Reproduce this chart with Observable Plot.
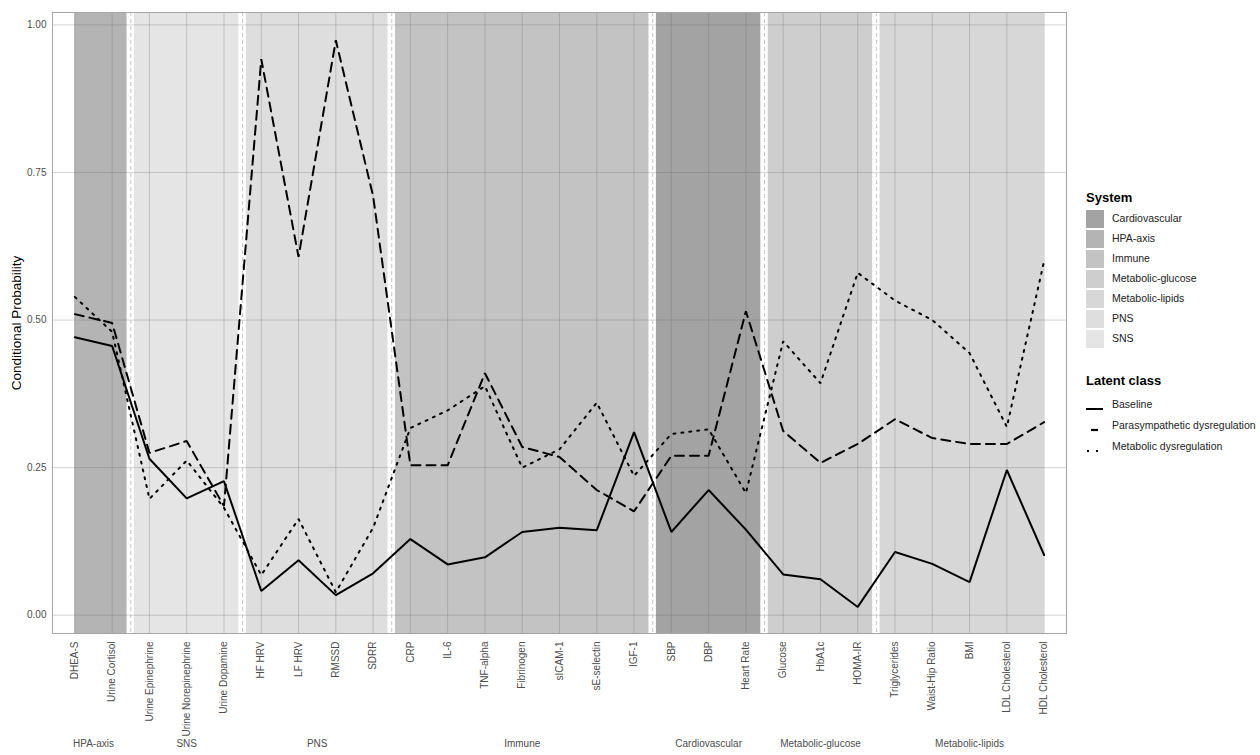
<!DOCTYPE html>
<html>
<head>
<meta charset="utf-8">
<script src="https://cdn.jsdelivr.net/npm/d3@7"></script>
<script src="https://cdn.jsdelivr.net/npm/@observablehq/plot@0.6"></script>
<style>
  html, body { margin: 0; padding: 0; background: #fff; }
  #wrap { position: relative; width: 1260px; height: 755px; font-family: "Liberation Sans", Arial, sans-serif; }
  #chart { position: absolute; left: 0; top: 0; }
  .lg { position: absolute; white-space: nowrap; }
  .lgtitle { font-size: 13px; font-weight: bold; color: #000; }
  .lglabel { font-size: 10.5px; color: #222; }
</style>
</head>
<body>
<div id="wrap"><div id="chart"></div><div id="legend"></div></div>
<script>
// ---- data ----
const variables = ["DHEA-S","Urine Cortisol","Urine Epinephrine","Urine Norepinephrine","Urine Dopamine",
  "HF HRV","LF HRV","RMSSD","SDRR","CRP","IL-6","TNF-alpha","Fibrinogen","sICAM-1","sE-selectin","IGF-1",
  "SBP","DBP","Heart Rate","Glucose","HbA1c","HOMA-IR","Triglycerides","Waist-Hip Ratio","BMI",
  "LDL Cholesterol","HDL Cholesterol"];
const systems = ["HPA-axis","SNS","PNS","Immune","Cardiovascular","Metabolic-glucose","Metabolic-lipids"];
const systemFirst = [1, 3, 6, 10, 17, 20, 23];
const systemLast  = [2, 5, 9, 16, 19, 22, 27];
const legendSystems = ["Cardiovascular","HPA-axis","Immune","Metabolic-glucose","Metabolic-lipids","PNS","SNS"];
const legendFills = ["#a3a3a3","#b4b4b4","#c3c3c3","#cecece","#d7d7d7","#dedede","#e5e5e5"];

const baseline = [0.471,0.456,0.265,0.198,0.227,0.041,0.093,0.034,0.071,0.129,0.086,0.098,0.141,0.148,0.144,0.310,
  0.141,0.212,0.145,0.069,0.061,0.014,0.107,0.087,0.056,0.246,0.102];
const parasympathetic = [0.510,0.495,0.275,0.295,0.185,0.942,0.607,0.974,0.710,0.254,0.254,0.410,0.285,0.268,0.212,0.176,
  0.270,0.270,0.515,0.312,0.258,0.290,0.332,0.300,0.290,0.290,0.327];
const metabolic = [0.539,0.480,0.197,0.262,0.182,0.068,0.163,0.039,0.148,0.317,0.347,0.388,0.250,0.281,0.360,0.236,
  0.307,0.315,0.207,0.464,0.393,0.580,0.533,0.500,0.444,0.319,0.600];
const classNames = ["Baseline","Parasympathetic dysregulation","Metabolic dysregulation"];
const yTicks = [0, 0.25, 0.5, 0.75, 1];

// ---- build tables ----
const idx = d3.range(1, variables.length + 1);
const sysData = systems.map((s, i) => ({
  system: s,
  x1: i === 0 ? systemFirst[i] : systemFirst[i] - 0.4,
  x2: i === systems.length - 1 ? systemLast[i] : systemLast[i] + 0.4,
  mid: (systemFirst[i] + systemLast[i]) / 2
}));
const separators = systemLast.slice(0, -1).map(v => v + 0.5);
const seriesData = [baseline, parasympathetic, metabolic].map(vals => vals.map((v, i) => ({x: i + 1, y: v})));
const dashes = [null, "9,6", "2,6"];

const font = '"Liberation Sans", Arial, sans-serif';
const chart = Plot.plot({
  width: 1075,
  height: 755,
  marginLeft: 52,
  marginRight: 9,
  marginTop: 12,
  marginBottom: 122,
  style: {fontFamily: font, background: "#fff"},
  x: {type: "linear", domain: [0.4, variables.length + 0.6]},
  y: {domain: [-0.031, 1.021]},
  color: {type: "ordinal", domain: legendSystems, range: legendFills},
  marks: [
    Plot.rect(sysData, {x1: "x1", x2: "x2", fill: "system"}),
    Plot.gridX(idx, {stroke: "#6e6e6e", strokeOpacity: 0.3, strokeWidth: 1}),
    Plot.gridY(yTicks, {stroke: "#6e6e6e", strokeOpacity: 0.3, strokeWidth: 1}),
    Plot.ruleX(separators, {stroke: "#c4c4c4", strokeWidth: 1, strokeDasharray: "4,3"}),
    ...seriesData.map((d, k) => Plot.line(d, {x: "x", y: "y", stroke: "#000", strokeWidth: 2,
      strokeDasharray: dashes[k], strokeLinejoin: "miter"})),
    Plot.frame({stroke: "#a6a6a6", strokeWidth: 1}),
    Plot.axisY(yTicks, {tickFormat: d3.format(".2f"), tickSize: 0, tickPadding: 6, fontSize: 10,
      color: "#4d4d4d", label: null}),
    Plot.axisX(idx, {tickFormat: i => variables[i - 1], tickRotate: -90, tickSize: 0, tickPadding: 8,
      fontSize: 10, color: "#4d4d4d", label: null}),
    Plot.text(["Conditional Probability"], {frameAnchor: "left", textAnchor: "middle", rotate: -90, dx: -36,
      fontSize: 13.5, fill: "#000"}),
    Plot.text(sysData, {x: "mid", text: "system", frameAnchor: "bottom", dy: 113, fontSize: 10, fill: "#4d4d4d"})
  ]
});
document.getElementById("chart").appendChild(chart);

// ---- legend (HTML, right side) ----
const lg = document.getElementById("legend");
function add(html, cls, left, top) {
  const el = document.createElement("div");
  el.className = "lg " + cls;
  el.style.left = left + "px";
  el.style.top = top + "px";
  el.innerHTML = html;
  lg.appendChild(el);
  return el;
}
add("System", "lgtitle", 1086, 190);
legendSystems.forEach((s, i) => {
  add(`<div style="width:18px;height:18px;background:${legendFills[i]}"></div>`, "", 1086, 210 + i * 20);
  add(s, "lglabel", 1112, 212 + i * 20);
});
add("Latent class", "lgtitle", 1086, 373);
classNames.forEach((c, i) => {
  const y = 405 + i * 21;
  const key = i === 0 ? `<line x1="0" x2="17" y1="5" y2="5" stroke="#000" stroke-width="2"/>`
    : i === 1 ? `<line x1="5" x2="12" y1="5" y2="5" stroke="#000" stroke-width="2.2"/>`
    : `<line x1="1" x2="17" y1="5" y2="5" stroke="#000" stroke-width="2" stroke-dasharray="2,7"/>`;
  add(`<svg width="18" height="10">${key}</svg>`, "", 1086, y - 5);
  add(c, "lglabel", 1112, y - 7);
});
</script>
</body>
</html>
